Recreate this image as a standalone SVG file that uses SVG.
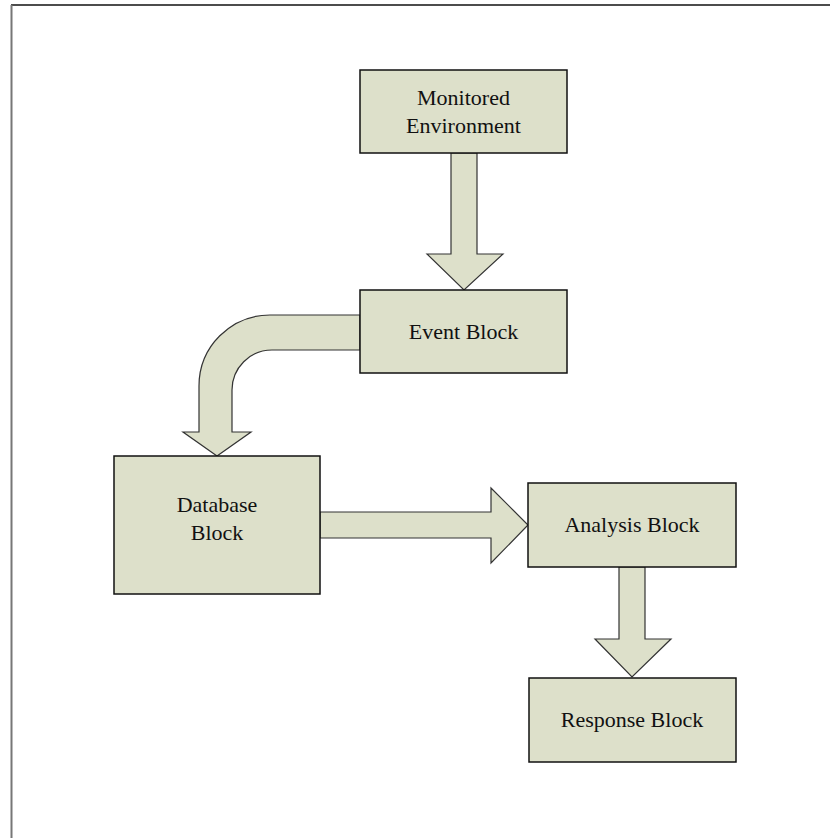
<svg xmlns="http://www.w3.org/2000/svg" width="840" height="838" viewBox="0 0 840 838">
  <style>
    .box { fill: #dde0ca; stroke: #111; stroke-width: 1.5; }
    .arrow { fill: #dde0ca; stroke: #333; stroke-width: 1.2; stroke-linejoin: miter; }
    .label { font-family: "Liberation Serif", "Times New Roman", serif; font-size: 22px; fill: #111; text-anchor: middle; }
  </style>
  <rect x="0" y="0" width="840" height="838" fill="#ffffff"/>
  <!-- page frame -->
  <line x1="11" y1="5" x2="830" y2="5" stroke="#111" stroke-width="1.5"/>
  <line x1="11.5" y1="5" x2="11.5" y2="838" stroke="#777" stroke-width="2"/>

  <g id="connectors">
    <path class="arrow" d="M451,153 L477,153 L477,254 L503,254 L464,290 L427,254 L451,254 Z"/>
    <path class="arrow" d="M360,315 L270,315 A71,71 0 0 0 199,386 L199,432 L183,432 L217,456 L251,432 L232,432 L232,390 A40,40 0 0 1 272,350 L360,350 Z"/>
    <path class="arrow" d="M320,512 L491,512 L491,488 L528,525 L491,563 L491,538 L320,538 Z"/>
    <path class="arrow" d="M619,567 L645,567 L645,639 L671,639 L632,677 L595,639 L619,639 Z"/>
  </g>

  <g id="monitored-environment">
    <rect class="box" x="360" y="70" width="207" height="83"/>
    <text class="label" x="463.5" y="105">Monitored</text>
    <text class="label" x="463.5" y="133">Environment</text>
  </g>
  <g id="event-block">
    <rect class="box" x="360" y="290" width="207" height="83"/>
    <text class="label" x="463.5" y="339">Event Block</text>
  </g>
  <g id="database-block">
    <rect class="box" x="114" y="456" width="206" height="138"/>
    <text class="label" x="217" y="512">Database</text>
    <text class="label" x="217" y="540">Block</text>
  </g>
  <g id="analysis-block">
    <rect class="box" x="528" y="483" width="208" height="84"/>
    <text class="label" x="632" y="532">Analysis Block</text>
  </g>
  <g id="response-block">
    <rect class="box" x="529" y="678" width="207" height="84"/>
    <text class="label" x="632" y="727">Response Block</text>
  </g>
</svg>
